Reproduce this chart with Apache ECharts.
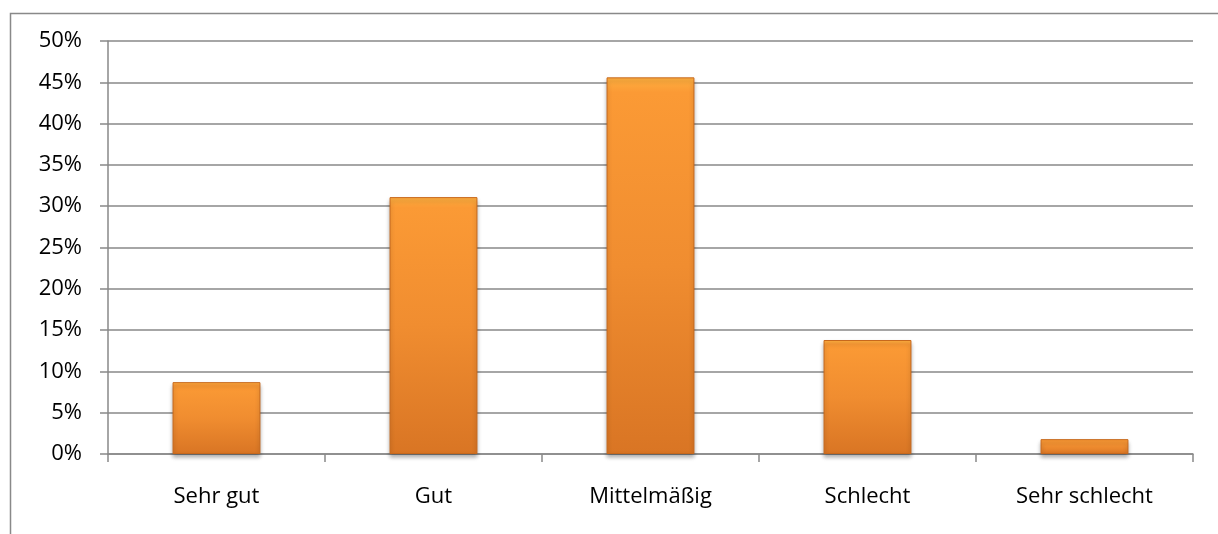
<!DOCTYPE html>
<html>
<head>
<meta charset="utf-8">
<script src="https://cdn.jsdelivr.net/npm/echarts@6/dist/echarts.min.js"></script>
<style>
  html, body { margin: 0; padding: 0; background: #fff; }
  #chart { width: 1218px; height: 534px; }
</style>
</head>
<body>
<div id="chart"></div>
<script>
  // Bewertung, Anteil in Prozent
  const categories = ['Sehr gut', 'Gut', 'Mittelmäßig', 'Schlecht', 'Sehr schlecht']
  const shares = [8.7, 31.1, 45.6, 13.8, 1.8]

  const chart = echarts.init(document.getElementById('chart'))
  const font = '"Open Sans", Calibri, sans-serif'

  chart.setOption({
    animation: false,
    graphic: [{
      type: 'rect',
      left: 8,
      top: 11,
      shape: {width: 1300, height: 600},
      style: {fill: 'none', stroke: '#898989', lineWidth: 1.5},
      silent: true
    }],
    grid: {
      left: 108,
      right: 25,
      top: 41,
      bottom: 80
    },
    xAxis: {
      type: 'category',
      data: categories,
      axisLine: {lineStyle: {color: '#898989', width: 1.5}},
      axisTick: {show: true, length: 8, lineStyle: {color: '#898989', width: 1.5}},
      axisLabel: {
        color: '#000',
        fontFamily: font,
        fontSize: 22,
        margin: 32
      }
    },
    yAxis: {
      type: 'value',
      min: 0,
      max: 50,
      interval: 5,
      axisLine: {show: true, lineStyle: {color: '#898989', width: 1.5}},
      axisTick: {show: true, length: 8, lineStyle: {color: '#898989', width: 1.5}},
      axisLabel: {
        color: '#000',
        fontFamily: font,
        fontSize: 22,
        margin: 26,
        formatter: '{value}%'
      },
      splitLine: {lineStyle: {color: '#898989', width: 1.5}}
    },
    series: [{
      type: 'bar',
      data: shares,
      barWidth: '40.5%',
      itemStyle: {
        color: {
          type: 'linear', x: 0, y: 0, x2: 0, y2: 1,
          colorStops: [
            {offset: 0, color: '#FFB040'},
            {offset: 0.04, color: '#FB9A35'},
            {offset: 0.5, color: '#F08D30'},
            {offset: 1, color: '#D97524'}
          ]
        },
        borderColor: '#C7681C',
        borderWidth: 1,
        shadowColor: 'rgba(0,0,0,0.3)',
        shadowBlur: 4,
        shadowOffsetY: 3
      }
    }]
  })
</script>
</body>
</html>
